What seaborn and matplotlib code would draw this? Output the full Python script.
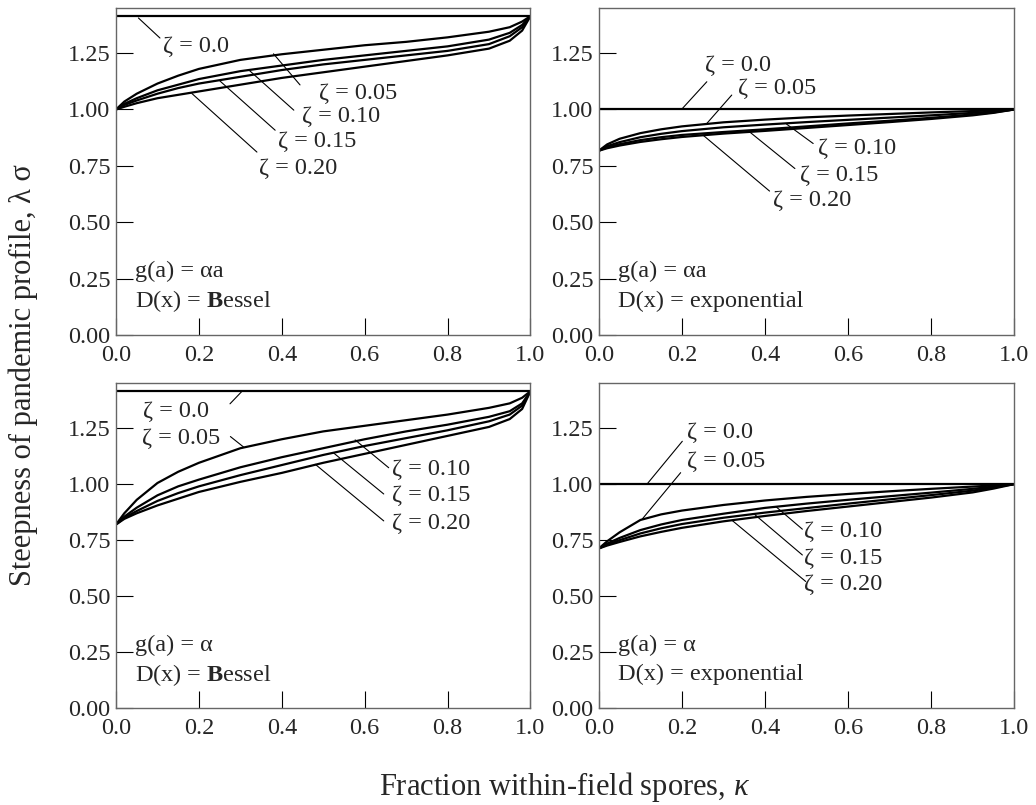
import numpy as np
import pandas as pd
import matplotlib
matplotlib.use("Agg")
import matplotlib.pyplot as plt
import seaborn as sns

# ---------------- data ----------------
kappa = [0.0, 0.02, 0.05, 0.1, 0.15, 0.2, 0.3, 0.4, 0.5, 0.6, 0.7, 0.8, 0.9, 0.95, 0.98, 1.0]
zetas = ["0.05", "0.10", "0.15", "0.20"]

# panel A: g(a)=alpha a, D(x)=Bessel
a_z05 = [1.0, 1.035, 1.07, 1.115, 1.15, 1.18, 1.22, 1.245, 1.265, 1.285, 1.30, 1.32, 1.345, 1.365, 1.39, 1.414]
a_z10 = [1.0, 1.025, 1.05, 1.085, 1.11, 1.135, 1.17, 1.195, 1.22, 1.24, 1.26, 1.28, 1.31, 1.34, 1.375, 1.414]
a_z15 = [1.0, 1.02, 1.04, 1.07, 1.095, 1.115, 1.145, 1.175, 1.20, 1.22, 1.24, 1.26, 1.29, 1.325, 1.365, 1.414]
a_z20 = [1.0, 1.012, 1.028, 1.05, 1.065, 1.08, 1.11, 1.14, 1.165, 1.19, 1.215, 1.24, 1.27, 1.305, 1.35, 1.414]

# panel B: g(a)=alpha a, D(x)=exponential
b_z05 = [0.817, 0.845, 0.87, 0.895, 0.912, 0.925, 0.943, 0.955, 0.965, 0.973, 0.98, 0.987, 0.993, 0.996, 0.998, 1.0]
b_z10 = [0.817, 0.837, 0.855, 0.877, 0.892, 0.904, 0.921, 0.933, 0.944, 0.954, 0.964, 0.974, 0.985, 0.991, 0.996, 1.0]
b_z15 = [0.817, 0.832, 0.846, 0.864, 0.877, 0.887, 0.900, 0.912, 0.925, 0.938, 0.95, 0.963, 0.978, 0.987, 0.995, 1.0]
b_z20 = [0.817, 0.828, 0.84, 0.856, 0.868, 0.878, 0.893, 0.905, 0.918, 0.931, 0.944, 0.958, 0.974, 0.985, 0.994, 1.0]

# panel C: g(a)=alpha, D(x)=Bessel
c_z05 = [0.82, 0.87, 0.93, 1.005, 1.055, 1.095, 1.16, 1.20, 1.235, 1.26, 1.285, 1.31, 1.34, 1.36, 1.385, 1.414]
c_z10 = [0.82, 0.855, 0.895, 0.95, 0.99, 1.02, 1.075, 1.12, 1.16, 1.2, 1.235, 1.265, 1.30, 1.325, 1.36, 1.414]
c_z15 = [0.82, 0.85, 0.88, 0.925, 0.96, 0.99, 1.04, 1.085, 1.13, 1.17, 1.205, 1.24, 1.28, 1.31, 1.35, 1.414]
c_z20 = [0.82, 0.845, 0.87, 0.905, 0.935, 0.965, 1.01, 1.05, 1.095, 1.135, 1.175, 1.215, 1.255, 1.29, 1.335, 1.414]

# panel D: g(a)=alpha, D(x)=exponential
d_z05 = [0.713, 0.745, 0.785, 0.84, 0.865, 0.882, 0.907, 0.927, 0.943, 0.956, 0.968, 0.979, 0.989, 0.994, 0.998, 1.0]
d_z10 = [0.713, 0.735, 0.76, 0.795, 0.82, 0.84, 0.868, 0.894, 0.913, 0.93, 0.946, 0.962, 0.979, 0.989, 0.996, 1.0]
d_z15 = [0.713, 0.73, 0.75, 0.78, 0.803, 0.822, 0.85, 0.873, 0.893, 0.913, 0.932, 0.951, 0.971, 0.985, 0.994, 1.0]
d_z20 = [0.713, 0.726, 0.742, 0.767, 0.787, 0.805, 0.834, 0.858, 0.88, 0.9, 0.92, 0.94, 0.963, 0.98, 0.992, 1.0]

flat_x = [0.0, 1.0]
flat_bessel = 1.414   # zeta = 0.0
flat_expon = 1.0      # zeta = 0.0

x_ticks = [0.0, 0.2, 0.4, 0.6, 0.8, 1.0]
y_ticks = [0.0, 0.25, 0.5, 0.75, 1.0, 1.25]

# ---------------- style ----------------
sns.set_style("ticks")
plt.rcParams["font.family"] = ["Liberation Serif", "DejaVu Serif"]
plt.rcParams["mathtext.fontset"] = "custom"
plt.rcParams["mathtext.rm"] = "Liberation Serif"
plt.rcParams["mathtext.it"] = "Liberation Serif:italic"
plt.rcParams["mathtext.bf"] = "Liberation Serif:bold"

fig = plt.figure(figsize=(10.36, 8.05), dpi=100)
positions = [
    [0.112, 0.584, 0.400, 0.406],
    [0.578, 0.584, 0.401, 0.406],
    [0.112, 0.120, 0.400, 0.404],
    [0.578, 0.120, 0.401, 0.404],
]

panels = [
    dict(curves=[a_z05, a_z10, a_z15, a_z20], flat=flat_bessel,
         g="g(a) = αa", d="D(x) = $\\mathbf{B}$essel",
         ann=[("ζ = 0.0", (0.113, 1.28), (0.106, 1.317), (0.054, 1.406)),
              ("ζ = 0.05", (0.489, 1.071), (0.444, 1.109), (0.380, 1.247)),
              ("ζ = 0.10", (0.449, 0.967), (0.429, 0.997), (0.320, 1.176)),
              ("ζ = 0.15", (0.392, 0.856), (0.384, 0.908), (0.251, 1.126)),
              ("ζ = 0.20", (0.344, 0.737), (0.340, 0.811), (0.183, 1.071))]),
    dict(curves=[b_z05, b_z10, b_z15, b_z20], flat=flat_expon,
         g="g(a) = αa", d="D(x) = exponential",
         ann=[("ζ = 0.0", (0.255, 1.197), (0.260, 1.123), (0.199, 1.0)),
              ("ζ = 0.05", (0.336, 1.093), (0.320, 1.064), (0.260, 0.938)),
              ("ζ = 0.10", (0.528, 0.827), (0.516, 0.849), (0.452, 0.935)),
              ("ζ = 0.15", (0.484, 0.709), (0.472, 0.738), (0.360, 0.905)),
              ("ζ = 0.20", (0.420, 0.598), (0.411, 0.638), (0.251, 0.886))]),
    dict(curves=[c_z05, c_z10, c_z15, c_z20], flat=flat_bessel,
         g="g(a) = α", d="D(x) = $\\mathbf{B}$essel",
         ann=[("ζ = 0.0", (0.066, 1.322), (0.275, 1.358), (0.304, 1.414)),
              ("ζ = 0.05", (0.062, 1.205), (0.276, 1.212), (0.308, 1.165)),
              ("ζ = 0.10", (0.666, 1.066), (0.658, 1.073), (0.577, 1.197)),
              ("ζ = 0.15", (0.666, 0.949), (0.646, 0.956), (0.525, 1.139)),
              ("ζ = 0.20", (0.666, 0.825), (0.646, 0.836), (0.481, 1.088))]),
    dict(curves=[d_z05, d_z10, d_z15, d_z20], flat=flat_expon,
         g="g(a) = α", d="D(x) = exponential",
         ann=[("ζ = 0.0", (0.213, 1.228), (0.201, 1.191), (0.116, 1.0)),
              ("ζ = 0.05", (0.213, 1.103), (0.197, 1.051), (0.104, 0.843)),
              ("ζ = 0.10", (0.494, 0.787), (0.490, 0.799), (0.426, 0.900)),
              ("ζ = 0.15", (0.494, 0.669), (0.490, 0.684), (0.373, 0.868)),
              ("ζ = 0.20", (0.494, 0.551), (0.498, 0.566), (0.321, 0.838))]),
]

FS = 17.5
for pos, p in zip(positions, panels):
    ax = fig.add_axes(pos)
    rows = []
    for z, vals in zip(zetas, p["curves"]):
        for k, v in zip(kappa, vals):
            rows.append((z, k, v))
    df = pd.DataFrame(rows, columns=["zeta", "kappa", "value"])
    sns.lineplot(data=df, x="kappa", y="value", hue="zeta",
                 palette=["black"] * len(zetas), legend=False,
                 estimator=None, sort=False, lw=1.6, ax=ax)
    sns.lineplot(x=flat_x, y=[p["flat"], p["flat"]], color="black", lw=1.6, ax=ax)

    for label, txy, s, e in p["ann"]:
        ax.annotate("", xy=e, xytext=s,
                    arrowprops=dict(arrowstyle="-", lw=0.8, color="black",
                                    shrinkA=0, shrinkB=0))
        ax.text(txy[0], txy[1], label, ha="left", va="center", fontsize=FS)

    ax.text(0.045, 0.28, p["g"], ha="left", va="center", fontsize=FS)
    ax.text(0.045, 0.15, p["d"], ha="left", va="center", fontsize=FS)

    ax.set_xlim(0, 1.0)
    ax.set_ylim(0, 1.45)
    ax.set_xticks(x_ticks)
    ax.set_yticks(y_ticks)
    ax.set_xticklabels([f"{t:.1f}" for t in x_ticks])
    ax.set_yticklabels([f"{t:.2f}" for t in y_ticks])
    ax.tick_params(axis="both", direction="in", length=12, width=0.8,
                   color="black", labelsize=FS)
    ax.tick_params(axis="x", pad=7)
    ax.tick_params(axis="y", pad=4)
    ax.tick_params(top=False, right=False)
    ax.set_xlabel("")
    ax.set_ylabel("")
    for sp in ax.spines.values():
        sp.set_visible(True)
        sp.set_color("#666666")
        sp.set_linewidth(1.0)

fig.text(0.545, 0.022, "Fraction within-field spores, $\\kappa$",
         ha="center", va="center", fontsize=22)
fig.text(0.022, 0.534, "Steepness of pandemic profile, λ σ",
         ha="center", va="center", rotation=90, fontsize=22)

fig.savefig("out.png", dpi=100)
